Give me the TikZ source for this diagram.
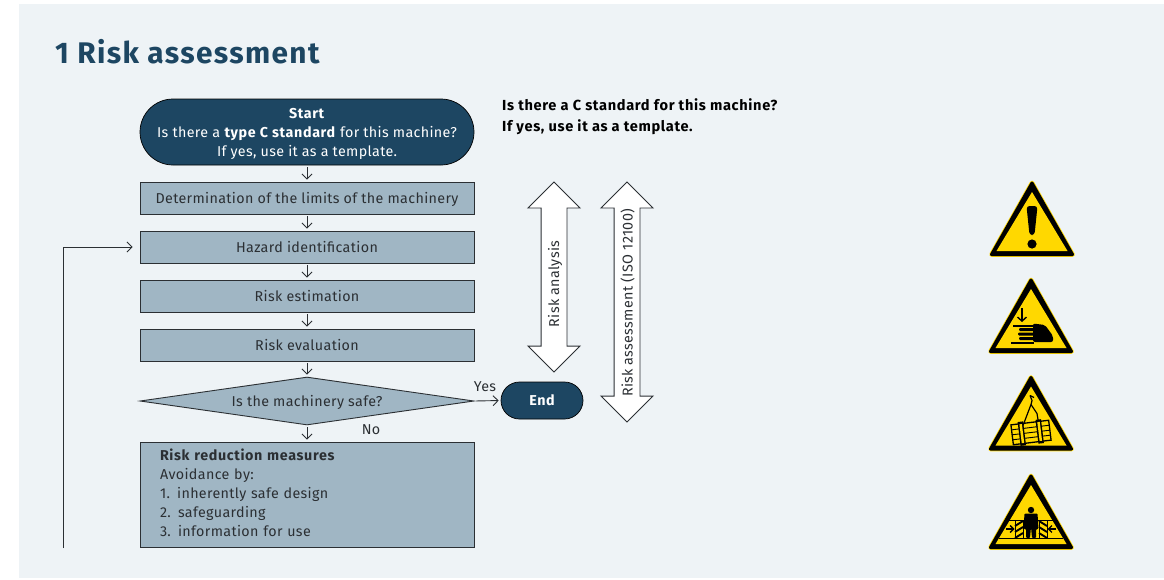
\documentclass[tikz,border=0pt]{standalone}
\usepackage{fontspec}
\setmainfont[LetterSpace=2.5,Numbers=Proportional,BoldFeatures={LetterSpace=4.5}]{Fira Sans}
\usetikzlibrary{shapes.geometric,shapes.arrows,arrows.meta}
\definecolor{bgc}{HTML}{EEF3F6}
\definecolor{navy}{HTML}{1D4662}
\definecolor{boxc}{HTML}{A0B6C4}
\definecolor{ink}{HTML}{2B2F33}
\definecolor{signy}{HTML}{FFD800}
\newcommand{\warntri}{%
  \draw[signy,fill=signy,line width=4.6pt,line join=round] (0,2)--(40.5,73.5)--(-40.5,73.5)--cycle;
  \draw[black,fill=black,line width=3pt,line join=round] (0,2)--(40.5,73.5)--(-40.5,73.5)--cycle;
  \fill[signy] (0,11)--(35.5,70)--(-35.5,70)--cycle;}
\tikzset{
  x=1pt,y=-1pt,
  every node/.style={font=\fontsize{14.3}{19}\selectfont,text=ink,inner sep=0pt},
  flow/.style={draw=ink,line width=0.9pt,-{Straight Barb[length=5pt,width=10pt]}},
  stepbox/.style={draw=ink,line width=0.9pt,fill=boxc,minimum width=334pt,minimum height=32pt,anchor=center,text height=13.5pt,text depth=3pt},
  terminal/.style={draw=black,line width=0.7pt,fill=navy,text=white,align=center},
  bigarrow/.style={shape=double arrow,draw=ink,line width=0.9pt,fill=white,rotate=90,minimum width=51pt,
     double arrow head extend=13pt,inner ysep=12.5pt,inner xsep=0pt},
  note/.style={font=\fontsize{14.6}{21}\selectfont\bfseries,text=black,align=left,anchor=north west},
  sgline/.style={black,line width=1pt},
}
\begin{document}
\begin{tikzpicture}
\useasboundingbox (0,0) rectangle (1164,579);
\fill[white] (0,0) rectangle (1164,579);
\fill[bgc] (19,4) rectangle (1164,578);
\node[font=\fontsize{29.8}{32}\selectfont\bfseries,text=navy,anchor=base west] (title) at (55,63) {1 Risk assessment};

\node[terminal,minimum width=334pt,minimum height=66pt,rounded corners=33pt] (start) at (307,132)
  {\rule{0pt}{14pt}\textbf{Start}\\Is there a \textbf{type C standard} for this machine?\\If yes, use it as a template.};
\node[stepbox] (limits) at (307,198) {Determination of the limits of the machinery};
\node[stepbox] (hazard) at (307,247) {Hazard identification};
\node[stepbox] (estim) at (307,296) {Risk estimation};
\node[stepbox] (eval) at (307,345) {Risk evaluation};
\node[shape=diamond,draw=ink,line width=0.9pt,fill=boxc,minimum width=334pt,minimum height=48pt,aspect=7] (safe) at (307,401) {};
\node[text height=13.5pt,text depth=3pt] (safetxt) at (307,401) {Is the machinery safe?};
\node[draw=ink,line width=0.9pt,fill=boxc,minimum width=334pt,minimum height=105pt,text width=294pt,align=left,inner xsep=20pt] (reduce) at (307,494.5)
  {\textbf{Risk reduction measures}\\Avoidance by:\\1. inherently safe design\\2. safeguarding\\3. information for use\rule[-3.5pt]{0pt}{1pt}};
\node[terminal,font=\fontsize{14.3}{19}\selectfont\bfseries,minimum width=82pt,minimum height=37pt,rounded corners=18.5pt] (end) at (542,400.5) {End};

\draw[flow,shorten <=2pt,shorten >=2pt] (start) -- (limits);
\draw[flow,shorten <=2pt,shorten >=2pt] (limits) -- (hazard);
\draw[flow,shorten <=2pt,shorten >=2pt] (hazard) -- (estim);
\draw[flow,shorten <=2pt,shorten >=2pt] (estim) -- (eval);
\draw[flow,shorten <=2pt,shorten >=2pt] (eval) -- (safe);
\draw[flow,shorten <=2pt,shorten >=2pt] (safe) -- (reduce);
\draw[flow,shorten <=2pt,shorten >=2pt] (safe.east) -- (end.west);
\coordinate (loopstart) at (63,548);
\draw[flow,shorten >=7pt] (loopstart) |- (hazard.west);

\node (yes) at (485,386.5) {Yes};
\node (no) at (371,429.5) {No};

\node[note] (cnote) at (502,98) {Is there a C standard for this machine?\\If yes, use it as a template.};

\node[bigarrow,minimum height=190pt] (ra) at (554,277) {};
\node[rotate=90] (ratxt) at (555,284) {Risk analysis};
\node[bigarrow,minimum height=240pt] (rb) at (627,302) {};
\node[rotate=90] (rbtxt) at (627.5,303) {Risk assessment (ISO 12100)};

% general warning
\begin{scope}[shift={(1032,181)}]
  \warntri
  \fill[black,rounded corners=3pt] (-5.5,25)--(5.5,25)--(2.5,54)--(-2.5,54)--cycle;
  \fill[black] (0,63) circle (4.6);
\end{scope}
% hand crush
\begin{scope}[shift={(1031,278)}]
  \warntri
  \draw[sgline,line width=1.4pt,-{Straight Barb[length=4pt,width=9pt]}] (-9,30)--(-9,44);
  \fill[black] (-18,46.5) rectangle (3,48.5);
  \fill[black] (-20,63.5) rectangle (3,65.5);
  \fill[black,rounded corners=2pt] (2,45.5)--(14,47)--(22,58)--(22,64)--(2,64)--cycle;
  \fill[black,rounded corners=1pt] (-12,50) rectangle (3,53);
  \fill[black,rounded corners=1pt] (-13,54.5) rectangle (3,57.5);
  \fill[black,rounded corners=1pt] (-12,59) rectangle (3,62);
\end{scope}
% suspended load
\begin{scope}[shift={(1031,375.5)}]
  \warntri
  \draw[sgline,line width=1.2pt] (-1,20)--(1,25)--(0,29)--(-8,50);
  \draw[sgline,line width=1.2pt] (0,29)--(6,38)--(8,50);
  \draw[sgline,line width=1.2pt] (-1,20)--(3,22);
  \begin{scope}[rotate around={7:(0,57)}]
    \draw[sgline,line width=1.3pt] (-19,47) rectangle (19,67);
    \draw[sgline,line width=0.9pt] (-19,52)--(19,52) (-19,57)--(19,57) (-19,62)--(19,62);
    \fill[black] (-12,45) rectangle (-6.5,69);
    \fill[black] (6,45) rectangle (11.5,69);
    \fill[signy] (-10.5,47.5) rectangle (-8,66.5);
    \fill[signy] (7.5,47.5) rectangle (10,66.5);
  \end{scope}
\end{scope}
% crushing of body
\begin{scope}[shift={(1031,474)}]
  \warntri
  \draw[black,line width=0.9pt] (-24,46)--(24,46) (-32,64)--(32,64);
  \foreach \s in {-1,1}{
    \begin{scope}[xscale=\s]
      \draw[black,line width=0.9pt] (-16,46) rectangle (-8,64);
      \draw[black,line width=1.9pt] (-16,52)--(-8,47) (-16,58)--(-8,53) (-16,64)--(-8,59);
      \draw[black,line width=1.3pt,-{Straight Barb[length=3.5pt,width=7pt]}] (-25,55)--(-16.5,55);
    \end{scope}}
  \fill[black] (0,36) circle (3.2);
  \fill[black,rounded corners=1pt] (-6.5,39.5)--(6.5,39.5)--(7.5,55)--(5,55)--(5,64)--(1,64)--(0,53)--(-1,64)--(-5,64)--(-5,55)--(-7.5,55)--cycle;
\end{scope}
\end{tikzpicture}
\end{document}
